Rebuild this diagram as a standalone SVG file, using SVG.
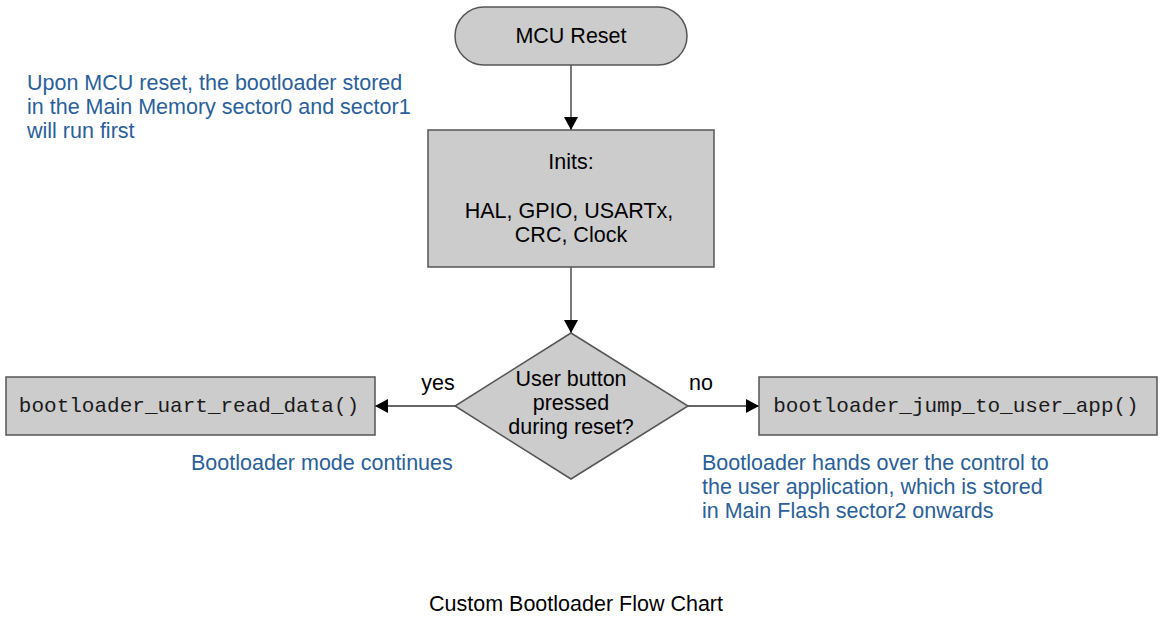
<svg xmlns="http://www.w3.org/2000/svg" width="1161" height="618" viewBox="0 0 1161 618">
  <style>
    .shape { fill: #cccccc; stroke: #555555; stroke-width: 1.5; }
    .lbl { font-family: "Liberation Sans", Arial, sans-serif; font-size: 21.5px; fill: #000000; }
    .mono { font-family: "Liberation Mono", "Courier New", monospace; font-size: 21px; fill: #1a1a1a; }
    .note { font-family: "Liberation Sans", Arial, sans-serif; font-size: 21.5px; fill: #2a6099; }
    .edge { stroke: #333333; stroke-width: 1.3; fill: none; marker-end: url(#arrow); }
  </style>
  <defs>
    <marker id="arrow" viewBox="0 0 13 14" refX="13" refY="7" markerWidth="13" markerHeight="14" markerUnits="userSpaceOnUse" orient="auto">
      <path d="M0,0 L13,7 L0,14 Z" fill="#000000"/>
    </marker>
  </defs>
  <rect width="1161" height="618" fill="#ffffff"/>

  <g id="connectors">
    <line class="edge" x1="571" y1="65" x2="571" y2="130"/>
    <line class="edge" x1="571" y1="267" x2="571" y2="333"/>
    <line class="edge" x1="455" y1="406" x2="375" y2="406"/>
    <line class="edge" x1="688" y1="406" x2="759" y2="406"/>
  </g>

  <g id="mcu-reset">
    <rect class="shape" x="455" y="7" width="232" height="58" rx="29" ry="29"/>
    <text class="lbl" x="571" y="43" text-anchor="middle">MCU Reset</text>
  </g>

  <g id="inits">
    <rect class="shape" x="428" y="130" width="286" height="137"/>
    <text class="lbl" x="571" y="169" text-anchor="middle">Inits:</text>
    <text class="lbl" x="569" y="218" text-anchor="middle">HAL, GPIO, USARTx,</text>
    <text class="lbl" x="571" y="242" text-anchor="middle">CRC, Clock</text>
  </g>

  <g id="decision">
    <polygon class="shape" points="571,333 688,406 571,479 455,406"/>
    <text class="lbl" x="571" y="386" text-anchor="middle">User button</text>
    <text class="lbl" x="571" y="410" text-anchor="middle">pressed</text>
    <text class="lbl" x="571" y="434" text-anchor="middle">during reset?</text>
  </g>

  <g id="uart-read">
    <rect class="shape" x="6" y="377" width="369" height="58"/>
    <text class="mono" x="189" y="412" text-anchor="middle">bootloader_uart_read_data()</text>
  </g>

  <g id="jump-to-app">
    <rect class="shape" x="759" y="377" width="398" height="58"/>
    <text class="mono" x="956" y="412" text-anchor="middle">bootloader_jump_to_user_app()</text>
  </g>

  <g id="edge-labels">
    <text class="lbl" x="438" y="390" text-anchor="middle">yes</text>
    <text class="lbl" x="701" y="390" text-anchor="middle">no</text>
  </g>

  <g id="notes">
    <text class="note" x="27" y="90">Upon MCU reset, the bootloader stored</text>
    <text class="note" x="27" y="114">in the Main Memory sector0 and sector1</text>
    <text class="note" x="27" y="138">will run first</text>
    <text class="note" x="191" y="470">Bootloader mode continues</text>
    <text class="note" x="702" y="470">Bootloader hands over the control to</text>
    <text class="note" x="702" y="494">the user application, which is stored</text>
    <text class="note" x="702" y="518">in Main Flash sector2 onwards</text>
  </g>

  <g id="title">
    <text class="lbl" x="576" y="611" text-anchor="middle">Custom Bootloader Flow Chart</text>
  </g>
</svg>
